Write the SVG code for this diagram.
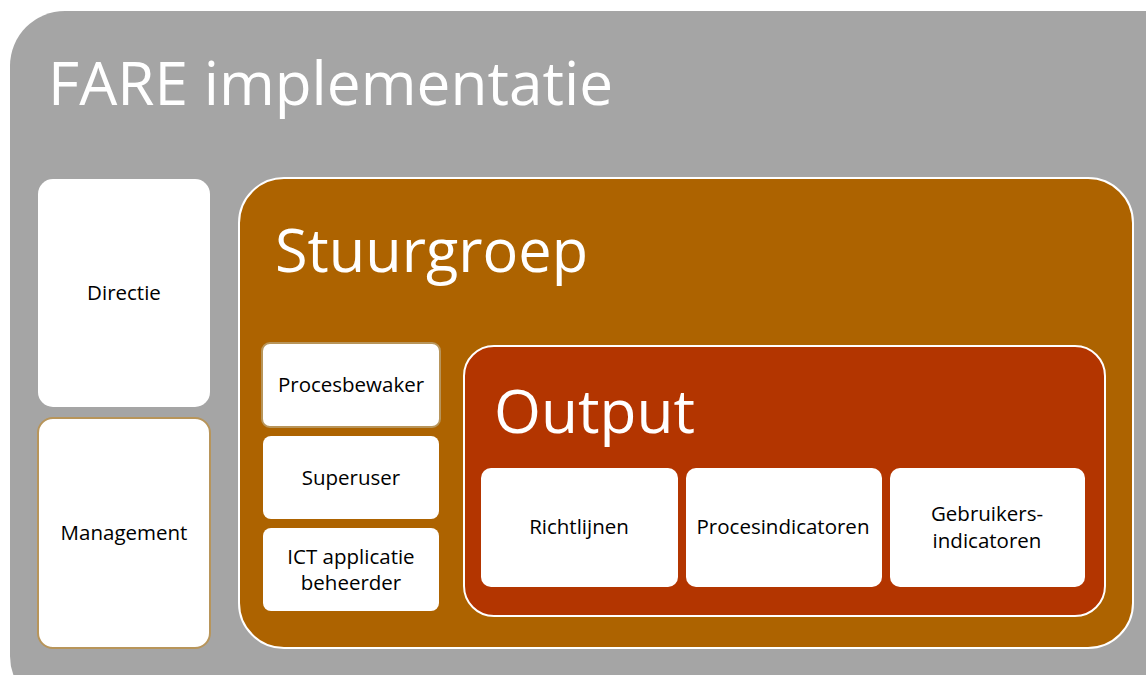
<svg xmlns="http://www.w3.org/2000/svg" width="1146" height="675" viewBox="0 0 1146 675">
<style>
.lbl{font-family:"Open Sans","Liberation Sans",sans-serif;font-size:20.5px;fill:#000;text-anchor:middle}
.ttl{font-family:"Open Sans","Liberation Sans",sans-serif;fill:#fff}
.card{fill:#fff}
.cardb{fill:#fff;stroke:#b8955a;stroke-width:2}
</style>
<rect width="1146" height="675" fill="#fff"/>
<g id="fare">
<rect x="10" y="11" width="1190" height="700" rx="55" fill="#a5a5a5"/>
<text class="ttl" x="48" y="105" font-size="60" textLength="565" lengthAdjust="spacingAndGlyphs">FARE implementatie</text>
</g>
<g id="directie">
<rect class="card" x="38" y="179" width="172" height="228" rx="15"/>
<text class="lbl" x="124" y="300">Directie</text>
</g>
<g id="management">
<rect class="cardb" x="38" y="418" width="172" height="230" rx="15"/>
<text class="lbl" x="124" y="540">Management</text>
</g>
<g id="stuurgroep">
<rect x="239" y="178" width="894" height="470" rx="45" fill="#ad6300" stroke="#fff" stroke-width="2"/>
<text class="ttl" x="275" y="272" font-size="60" textLength="313" lengthAdjust="spacingAndGlyphs">Stuurgroep</text>
</g>
<g id="procesbewaker">
<rect class="cardb" x="262" y="343" width="178" height="84" rx="8"/>
<text class="lbl" x="351" y="392">Procesbewaker</text>
</g>
<g id="superuser">
<rect class="card" x="263" y="436" width="176" height="83" rx="8"/>
<text class="lbl" x="351" y="485">Superuser</text>
</g>
<g id="ict">
<rect class="card" x="263" y="528" width="176" height="83" rx="8"/>
<text class="lbl" x="351" y="564">ICT applicatie</text>
<text class="lbl" x="351" y="590">beheerder</text>
</g>
<g id="output">
<rect x="464" y="346" width="641" height="270" rx="30" fill="#b33500" stroke="#fff" stroke-width="2"/>
<text class="ttl" x="494" y="433" font-size="60" textLength="201" lengthAdjust="spacingAndGlyphs">Output</text>
</g>
<g id="richtlijnen">
<rect class="card" x="481" y="468" width="197" height="119" rx="10"/>
<text class="lbl" x="579" y="534">Richtlijnen</text>
</g>
<g id="procesindicatoren">
<rect class="card" x="686" y="468" width="196" height="119" rx="10"/>
<text class="lbl" x="783" y="534">Procesindicatoren</text>
</g>
<g id="gebruikersindicatoren">
<rect class="card" x="890" y="468" width="195" height="119" rx="10"/>
<text class="lbl" x="987" y="521">Gebruikers-</text>
<text class="lbl" x="987" y="548">indicatoren</text>
</g>
<g id="connectors"></g>
</svg>
